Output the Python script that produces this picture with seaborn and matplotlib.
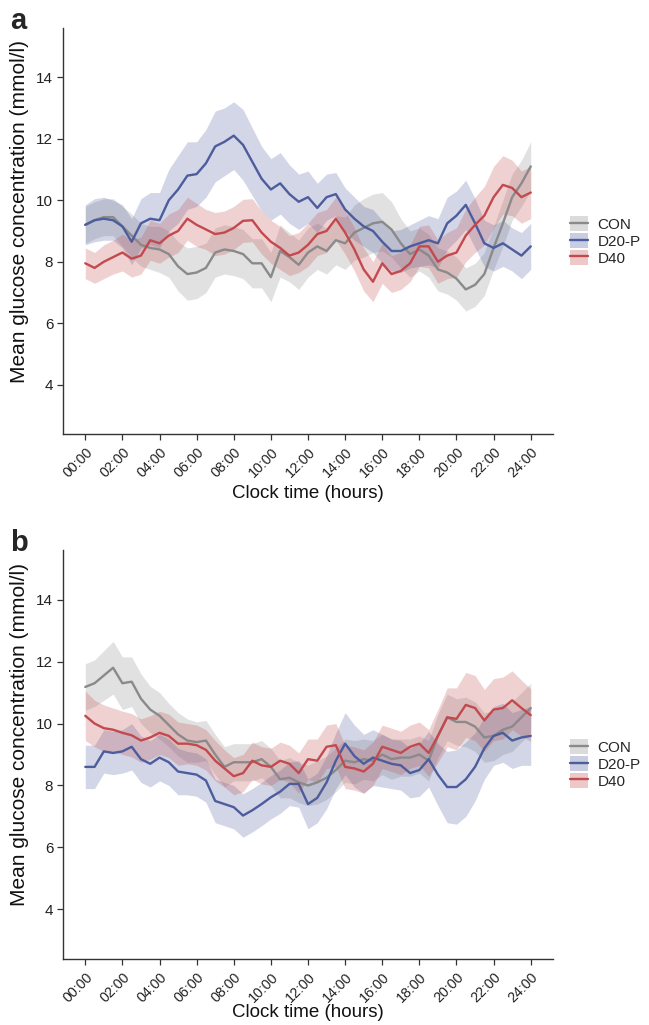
import numpy as np
import pandas as pd
import matplotlib
matplotlib.use("Agg")
import matplotlib.pyplot as plt
from matplotlib.patches import Patch
from matplotlib.lines import Line2D
import seaborn as sns

sns.set_style("white")
plt.rcParams['font.family'] = ['Liberation Sans', 'DejaVu Sans']

# ---------------- data ----------------
hours = [h * 0.5 for h in range(49)]   # 0, 0.5, ..., 24 h
groups = ["CON", "D20-P", "D40"]
tick_hours = [0, 2, 4, 6, 8, 10, 12, 14, 16, 18, 20, 22, 24]
tick_labels = ["00:00", "02:00", "04:00", "06:00", "08:00", "10:00", "12:00",
               "14:00", "16:00", "18:00", "20:00", "22:00", "24:00"]

# Panel a means
a_con = [9.2, 9.35, 9.45, 9.45, 9.15, 8.85, 8.55, 8.45, 8.4, 8.25, 7.85, 7.6, 7.65,
         7.8, 8.3, 8.4, 8.35, 8.25, 7.95, 7.95, 7.5, 8.35, 8.15, 7.9, 8.3, 8.5, 8.35,
         8.7, 8.6, 8.95, 9.1, 9.25, 9.3, 9.05, 8.6, 8.25, 8.4, 8.2, 7.75, 7.65, 7.45,
         7.1, 7.25, 7.6, 8.45, 9.25, 10.1, 10.55, 11.1]
a_d20 = [9.2, 9.35, 9.4, 9.35, 9.15, 8.65, 9.25, 9.4, 9.35, 10.0, 10.35, 10.8, 10.85,
         11.2, 11.75, 11.9, 12.1, 11.8, 11.25, 10.7, 10.35, 10.55, 10.2, 9.95, 10.1,
         9.75, 10.1, 10.2, 9.7, 9.4, 9.15, 9.0, 8.65, 8.35, 8.35, 8.5, 8.6, 8.7, 8.6,
         9.25, 9.5, 9.85, 9.25, 8.6, 8.45, 8.6, 8.4, 8.2, 8.5]
a_d40 = [7.95, 7.8, 8.0, 8.15, 8.3, 8.1, 8.2, 8.7, 8.6, 8.85, 9.0, 9.4, 9.2, 9.05,
         8.9, 8.95, 9.1, 9.33, 9.35, 8.95, 8.65, 8.45, 8.2, 8.3, 8.55, 8.9, 9.0, 9.4,
         8.95, 8.4, 7.75, 7.35, 7.95, 7.6, 7.7, 7.95, 8.5, 8.5, 8.0, 8.2, 8.3, 8.85,
         9.2, 9.5, 10.1, 10.5, 10.4, 10.1, 10.25]
# Panel a ribbon half-widths
a_con_hw = [0.6, 0.6, 0.6, 0.6, 0.65, 0.7, 0.7, 0.7, 0.75, 0.75, 0.8, 0.85, 0.85, 0.8,
            0.8, 0.8, 0.8, 0.8, 0.8, 0.8, 0.8, 0.85, 0.8, 0.8, 0.8, 0.75, 0.75, 0.8,
            0.85, 0.9, 0.95, 0.95, 0.95, 0.9, 0.8, 0.75, 0.7, 0.7, 0.7, 0.7, 0.7, 0.7,
            0.7, 0.7, 0.7, 0.75, 0.75, 0.75, 0.8]
a_d20_hw = [0.65, 0.7, 0.7, 0.65, 0.7, 0.75, 0.8, 0.85, 0.9, 1.0, 1.1, 1.1, 1.05, 1.1,
            1.15, 1.1, 1.1, 1.15, 1.1, 1.05, 1.0, 1.0, 0.95, 0.9, 0.85, 0.8, 0.75, 0.7,
            0.7, 0.7, 0.65, 0.7, 0.7, 0.65, 0.7, 0.7, 0.75, 0.8, 0.8, 0.85, 0.8, 0.8,
            0.8, 0.75, 0.75, 0.75, 0.7, 0.75, 0.75]
a_d40_hw = [0.5, 0.5, 0.55, 0.55, 0.6, 0.6, 0.6, 0.65, 0.65, 0.7, 0.7, 0.7, 0.7, 0.65,
            0.7, 0.7, 0.7, 0.7, 0.7, 0.7, 0.7, 0.7, 0.65, 0.65, 0.7, 0.7, 0.7, 0.7,
            0.7, 0.7, 0.7, 0.65, 0.65, 0.6, 0.6, 0.6, 0.65, 0.7, 0.7, 0.75, 0.8, 0.85,
            0.9, 0.95, 1.0, 0.95, 0.9, 0.85, 0.85]

# Panel b means
b_con = [11.18, 11.3, 11.55, 11.8, 11.3, 11.35, 10.8, 10.45, 10.25, 9.95, 9.65, 9.45,
         9.4, 9.45, 9.0, 8.6, 8.75, 8.75, 8.75, 8.85, 8.6, 8.2, 8.25, 8.1, 8.0, 8.1,
         8.25, 8.5, 8.8, 8.75, 8.85, 8.8, 9.0, 8.85, 8.9, 8.9, 9.0, 8.8, 9.6, 10.2,
         10.05, 10.05, 9.9, 9.55, 9.6, 9.8, 9.9, 10.2, 10.5]
b_d20 = [8.6, 8.6, 9.1, 9.05, 9.1, 9.25, 8.85, 8.7, 8.9, 8.75, 8.45, 8.4, 8.35, 8.16,
         7.5, 7.4, 7.3, 7.03, 7.2, 7.4, 7.62, 7.8, 8.05, 8.05, 7.4, 7.6, 8.1, 8.8,
         9.35, 8.95, 8.7, 8.9, 8.8, 8.7, 8.65, 8.4, 8.5, 8.85, 8.35, 7.95, 7.95, 8.2,
         8.6, 9.2, 9.6, 9.7, 9.45, 9.55, 9.6]
b_d40 = [10.25, 10.0, 9.85, 9.8, 9.7, 9.62, 9.45, 9.55, 9.7, 9.6, 9.35, 9.35, 9.3,
         9.15, 8.8, 8.55, 8.3, 8.4, 8.8, 8.65, 8.6, 8.8, 8.7, 8.4, 8.85, 8.8, 9.25,
         9.3, 8.6, 8.55, 8.45, 8.7, 9.25, 9.15, 9.05, 9.25, 9.35, 9.05, 9.6, 10.2,
         10.15, 10.6, 10.5, 10.1, 10.45, 10.5, 10.75, 10.5, 10.27]
# Panel b ribbon half-widths
b_con_hw = [0.75, 0.75, 0.8, 0.85, 0.85, 0.8, 0.8, 0.75, 0.75, 0.7, 0.7, 0.7, 0.65,
            0.65, 0.65, 0.65, 0.6, 0.6, 0.6, 0.6, 0.6, 0.6, 0.65, 0.65, 0.65, 0.7, 0.7,
            0.7, 0.7, 0.7, 0.65, 0.65, 0.65, 0.65, 0.6, 0.6, 0.6, 0.65, 0.7, 0.75,
            0.75, 0.8, 0.8, 0.8, 0.8, 0.8, 0.8, 0.8, 0.8]
b_d20_hw = [0.7, 0.7, 0.7, 0.7, 0.7, 0.75, 0.75, 0.75, 0.75, 0.75, 0.75, 0.7, 0.7, 0.7,
            0.7, 0.7, 0.7, 0.7, 0.7, 0.7, 0.7, 0.7, 0.7, 0.75, 0.8, 0.8, 0.85, 0.9,
            1.0, 1.0, 0.95, 0.9, 0.85, 0.8, 0.8, 0.8, 0.85, 0.9, 1.0, 1.15, 1.2, 1.2,
            1.1, 1.0, 0.95, 0.95, 0.9, 0.9, 0.95]
b_d40_hw = [0.8, 0.75, 0.75, 0.7, 0.7, 0.7, 0.7, 0.7, 0.7, 0.7, 0.7, 0.65, 0.65, 0.65,
            0.65, 0.6, 0.6, 0.6, 0.6, 0.6, 0.6, 0.6, 0.6, 0.65, 0.65, 0.7, 0.7, 0.7,
            0.7, 0.7, 0.7, 0.7, 0.7, 0.7, 0.7, 0.7, 0.7, 0.75, 0.85, 0.95, 1.0, 1.05,
            1.05, 1.0, 1.0, 1.0, 0.95, 0.9, 0.85]

colors = {"CON": "#8a8a8a", "D20-P": "#4d5c9c", "D40": "#c24a4e"}
fill_alpha = {"CON": 0.25, "D20-P": 0.25, "D40": 0.25}

panels = [
    ("a", {"CON": (a_con, a_con_hw), "D20-P": (a_d20, a_d20_hw), "D40": (a_d40, a_d40_hw)}),
    ("b", {"CON": (b_con, b_con_hw), "D20-P": (b_d20, b_d20_hw), "D40": (b_d40, b_d40_hw)}),
]

W, H = 649, 1025
fig = plt.figure(figsize=(W / 100, H / 100), dpi=100)
# (left, top, right, bottom) in pixels
boxes_px = [(63, 28, 553, 434), (63, 550, 553, 959)]
legend_y = [241, 764]
letter_y = [21, 543]
ylabel_center = [212, 735]
xlabel_top = [485, 1004]

for i, ((letter, data), (l, t, r, b)) in enumerate(zip(panels, boxes_px)):
    ax = fig.add_axes([l / W, 1 - b / H, (r - l) / W, (b - t) / H])
    rows = []
    for g in groups:
        m, hw = data[g]
        for tt, v in zip(hours, m):
            rows.append({"hour": tt, "glucose": v, "group": g})
        m = np.array(m)
        hw = np.array(hw)
        ax.fill_between(hours, m - hw, m + hw, color=colors[g],
                        alpha=fill_alpha[g], linewidth=0, zorder=1)
    df = pd.DataFrame(rows)
    sns.lineplot(data=df, x="hour", y="glucose", hue="group", hue_order=groups,
                 palette=colors, linewidth=1.7, ax=ax, legend=False, zorder=3)

    ax.set_xlim(-1.2, 25.2)
    ax.set_ylim(2.4, 15.6)
    ax.set_yticks([4, 6, 8, 10, 12, 14])
    ax.set_xticks(tick_hours)
    ax.set_xticklabels(tick_labels, rotation=45, ha="right", rotation_mode="anchor")
    ax.tick_params(axis="both", length=4, width=0.9,
                   color="#333333", labelcolor="#222222", direction="out",
                   bottom=True, left=True)
    ax.tick_params(axis="y", labelsize=11, pad=3)
    ax.tick_params(axis="x", labelsize=10.3, pad=4)
    for s in ["top", "right"]:
        ax.spines[s].set_visible(False)
    for s in ["left", "bottom"]:
        ax.spines[s].set_color("#333333")
        ax.spines[s].set_linewidth(1.0)
    ax.set_xlabel("Clock time (hours)", fontsize=13.5, color="#111111", va="top")
    ax.set_ylabel("Mean glucose concentration (mmol/l)", fontsize=15,
                  color="#111111", va="center")
    hpx = b - t
    wpx = r - l
    ax.xaxis.set_label_coords(0.5, (b - xlabel_top[i]) / hpx)
    ax.yaxis.set_label_coords((20 - l) / wpx, (b - ylabel_center[i]) / hpx)

    handles = [(Patch(facecolor=colors[g], alpha=fill_alpha[g] + 0.05, edgecolor="none"),
                Line2D([0], [0], color=colors[g], lw=1.7)) for g in groups]
    fig.legend(handles, groups, loc="center left",
               bbox_to_anchor=(570 / W, 1 - legend_y[i] / H), frameon=False,
               fontsize=11, handlelength=1.2, handleheight=1.1, handletextpad=0.6,
               labelspacing=0.08, borderpad=0, borderaxespad=0)
    fig.text(10 / W, 1 - letter_y[i] / H, letter, fontsize=21, fontweight="bold",
             va="center", ha="left")

fig.savefig("out.png", dpi=100)
